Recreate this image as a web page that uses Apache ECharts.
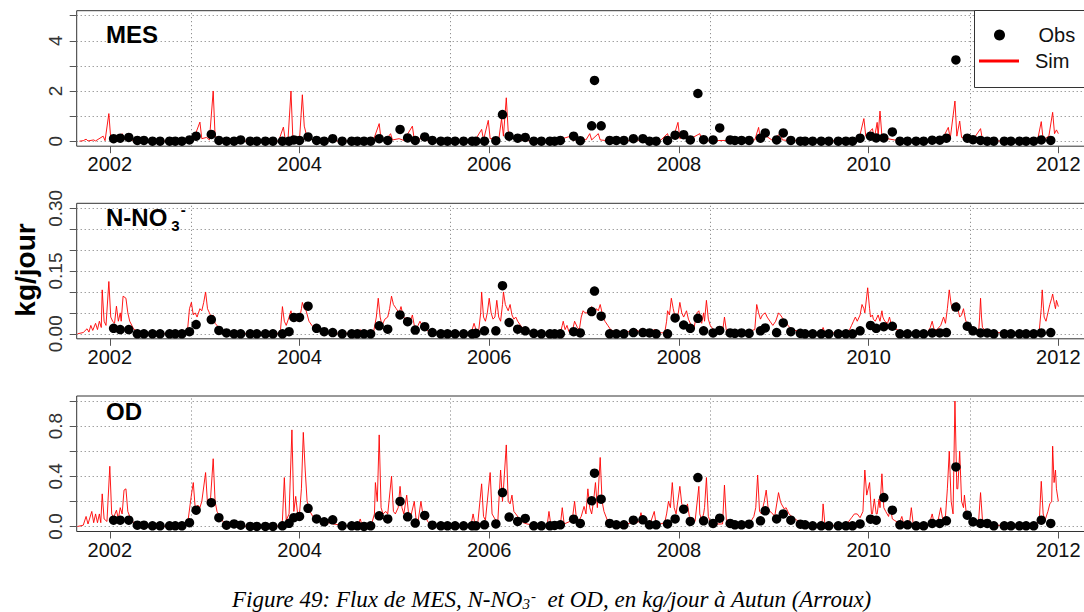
<!DOCTYPE html>
<html><head><meta charset="utf-8">
<script src="https://cdn.jsdelivr.net/npm/echarts@6/dist/echarts.min.js"></script>
<style>html,body{margin:0;padding:0;background:#fff}#c{width:1084px;height:612px}</style>
</head><body><div id="c"></div>
<script>
// ---- DATA ----
const yearTicks = [2002, 2004, 2006, 2008, 2010, 2012];
const vGridDates = [2002.855, 2005.592, 2008.333, 2011.071];
const mesTicks = [0, 1, 2, 3, 4, 5];
const mesTickLabels = [0, 2, 4];
const no3Ticks = [0, 0.05, 0.10, 0.15, 0.20, 0.25, 0.30];
const no3TickLabels = [0, 0.15, 0.30];
const odTicks = [0, 0.2, 0.4, 0.6, 0.8, 1.0];
const odTickLabels = [0, 0.4, 0.8];

const obsDates = [2002.04,2002.11,2002.20,2002.29,2002.36,2002.45,2002.53,2002.63,2002.69,2002.76,
2002.84,2002.91,2003.07,2003.15,2003.23,2003.31,2003.38,2003.48,2003.55,2003.64,
2003.72,2003.82,2003.89,2003.94,2004.00,2004.09,2004.18,2004.26,2004.35,2004.45,
2004.55,2004.61,2004.68,2004.75,2004.84,2004.93,2005.06,2005.14,2005.22,2005.32,
2005.40,2005.49,2005.56,2005.64,2005.73,2005.82,2005.86,2005.95,2006.07,2006.14,
2006.21,2006.30,2006.38,2006.47,2006.55,2006.64,2006.69,2006.75,2006.89,2006.96,
2007.08,2007.11,2007.18,2007.27,2007.34,2007.42,2007.52,2007.62,2007.69,2007.76,
2007.88,2007.96,2008.05,2008.12,2008.20,2008.26,2008.36,2008.43,2008.54,2008.59,
2008.66,2008.74,2008.86,2008.91,2009.03,2009.10,2009.18,2009.28,2009.33,2009.41,
2009.50,2009.58,2009.68,2009.76,2009.83,2009.91,2010.02,2010.08,2010.16,2010.25,
2010.33,2010.41,2010.50,2010.58,2010.67,2010.75,2010.82,2010.92,2011.04,2011.10,
2011.18,2011.25,2011.32,2011.43,2011.50,2011.59,2011.66,2011.74,2011.82,2011.92];

const mesObs = [0.10,0.12,0.15,0.03,0.03,0,0,0,0,0,
0.05,0.20,0.27,0.03,0,0,0.05,0,0,0,
0,0,0,0.05,0.03,0.17,0.03,0,0.10,0,
0,0,0,0,0.10,0.03,0.47,0.13,0.03,0.17,
0.03,0,0,0,0,0,0,0,0.02,1.06,
0.20,0.12,0.15,0,0,0,0,0.03,0.20,0.02,
0.61,2.42,0.61,0.03,0.03,0.03,0.10,0.10,0,0,
0.03,0.24,0.26,0.05,1.90,0.06,0.05,0.53,0.05,0.03,
0.03,0.03,0.12,0.33,0.05,0.33,0.03,0,0,0,
0,0,0,0,0,0.12,0.20,0.13,0.13,0.37,
0,0,0,0,0.04,0.04,0.12,3.24,0.12,0.06,
0.03,0,0,0,0,0,0,0,0.05,0.03];

const no3Obs = [0.013,0.010,0.010,0,0,0,0,0,0,0,
0.005,0.022,0.034,0.008,0.002,0,0,0,0,0,
0,0,0.005,0.039,0.039,0.066,0.013,0.005,0.003,0,
0,0,0,0,0.019,0.011,0.045,0.029,0.009,0.017,
0.003,0,0,0,0,0,0.001,0.007,0.007,0.115,
0.027,0.011,0.007,0.001,0,0,0,0,0.005,0.002,
0.053,0.102,0.042,0,0,0,0.003,0.003,0.002,0,
0,0.038,0.021,0.013,0.037,0.007,0.002,0.008,0.002,0.001,
0.002,0.001,0.007,0.014,0.003,0.026,0.005,0.001,0,0,
0,0,0,0,0,0.007,0.020,0.013,0.017,0.018,
0,0,0,0,0.002,0.002,0.003,0.064,0.018,0.007,
0.002,0.002,0,0,0,0,0,0,0.002,0.003];

const odObs = [0.05,0.05,0.05,0.01,0.01,0.005,0.005,0.005,0.005,0.005,
0.03,0.13,0.19,0.07,0.01,0.02,0.01,0,0,0,
0,0.005,0.025,0.07,0.08,0.145,0.06,0.037,0.053,0.005,
0.005,0.005,0,0.005,0.085,0.06,0.20,0.077,0.027,0.088,
0.01,0.005,0.005,0.005,0.005,0.005,0.005,0.013,0.02,0.27,
0.075,0.04,0.064,0.005,0.005,0.005,0.008,0.013,0.058,0.024,
0.205,0.425,0.218,0.024,0.013,0.013,0.05,0.053,0.013,0.013,
0.02,0.06,0.138,0.04,0.39,0.045,0.024,0.066,0.024,0.013,
0.013,0.018,0.045,0.125,0.06,0.10,0.05,0.018,0.013,0.005,
0.005,0.005,0.005,0.005,0.005,0.02,0.058,0.05,0.23,0.13,
0.013,0.013,0.005,0.005,0.024,0.024,0.045,0.475,0.09,0.037,
0.024,0.024,0.005,0.005,0.005,0.005,0.005,0.005,0.05,0.024];

const mesSim = [[2001.68,0],[2001.72,0.02],[2001.75,0.08],[2001.77,0.01],[2001.83,0.05],[2001.85,0.01],[2001.93,0.2],[2001.95,0.02],[2001.99,1.1],[2002.01,0.1],[2002.05,0.05],[2002.09,0.15],[2002.11,0.05],[2002.13,0.3],[2002.15,0.08],[2002.2,0.1],[2002.25,0.02],[2002.35,0.01],[2002.6,0],[2002.8,0.02],[2002.85,0.15],[2002.88,0.05],[2002.95,0.76],[2002.97,0.1],[2003.02,0.15],[2003.05,0.05],[2003.09,2.0],[2003.11,0.2],[2003.15,0.05],[2003.25,0.01],[2003.5,0],[2003.78,0.01],[2003.83,0.56],[2003.85,0.05],[2003.88,0.15],[2003.91,2.0],[2003.93,0.1],[2003.97,0.2],[2004.0,0.05],[2004.03,1.85],[2004.05,0.6],[2004.07,0.3],[2004.1,0.1],[2004.15,0.05],[2004.25,0.02],[2004.5,0.01],[2004.7,0.02],[2004.78,0.05],[2004.84,0.7],[2004.86,0.05],[2004.92,0.1],[2004.96,0.3],[2004.98,0.05],[2005.05,0.1],[2005.1,0.03],[2005.19,0.6],[2005.21,0.05],[2005.28,0.1],[2005.35,0.02],[2005.6,0],[2005.85,0.03],[2005.92,0.47],[2005.94,0.05],[2005.99,0.83],[2006.01,0.1],[2006.06,0.1],[2006.1,0.05],[2006.13,0.9],[2006.15,0.2],[2006.18,1.73],[2006.2,0.4],[2006.23,0.25],[2006.27,0.1],[2006.33,0.03],[2006.5,0.01],[2006.7,0.02],[2006.86,0.2],[2006.88,0.03],[2006.98,0.1],[2007.02,0.05],[2007.06,0.3],[2007.08,0.05],[2007.15,0.3],[2007.17,0.05],[2007.25,0.02],[2007.5,0.03],[2007.65,0.05],[2007.8,0.01],[2007.88,0.3],[2007.9,0.05],[2007.95,0.25],[2007.99,0.75],[2008.01,0.1],[2008.05,0.2],[2008.1,0.05],[2008.22,0.3],[2008.24,0.05],[2008.3,0.02],[2008.5,0.03],[2008.7,0.01],[2008.8,0.05],[2008.84,0.55],[2008.86,0.05],[2008.92,0.2],[2008.98,0.05],[2009.07,0.3],[2009.09,0.05],[2009.15,0.03],[2009.4,0],[2009.52,0.05],[2009.7,0],[2009.85,0.05],[2009.9,0.1],[2009.95,0.9],[2009.97,0.2],[2010.04,0.5],[2010.06,0.1],[2010.09,0.75],[2010.1,0.2],[2010.12,1.2],[2010.14,0.2],[2010.2,0.1],[2010.27,0.05],[2010.4,0.02],[2010.6,0.01],[2010.7,0.05],[2010.78,0.1],[2010.84,0.55],[2010.86,0.1],[2010.91,1.6],[2010.93,0.2],[2010.96,0.8],[2010.98,0.15],[2011.03,0.1],[2011.1,0.05],[2011.18,0.5],[2011.2,0.05],[2011.3,0.01],[2011.6,0],[2011.78,0.02],[2011.82,0.78],[2011.84,0.05],[2011.9,0.2],[2011.94,1.15],[2011.96,0.3],[2011.98,0.45],[2012.0,0.3]];

const no3Sim = [[2001.66,0],[2001.72,0.003],[2001.76,0.012],[2001.78,0.004],[2001.80,0.02],[2001.82,0.008],[2001.85,0.025],[2001.87,0.01],[2001.89,0.03],[2001.91,0.015],[2001.92,0.105],[2001.94,0.03],[2001.96,0.02],[2001.99,0.125],[2002.01,0.04],[2002.03,0.03],[2002.05,0.025],[2002.07,0.066],[2002.09,0.03],[2002.11,0.05],[2002.12,0.03],[2002.14,0.09],[2002.17,0.085],[2002.19,0.05],[2002.21,0.03],[2002.25,0.012],[2002.30,0.004],[2002.40,0.001],[2002.60,0],[2002.80,0.001],[2002.82,0.01],[2002.84,0.06],[2002.86,0.075],[2002.88,0.045],[2002.90,0.05],[2002.92,0.04],[2002.95,0.06],[2002.97,0.055],[2002.99,0.075],[2003.01,0.1],[2003.03,0.06],[2003.05,0.05],[2003.07,0.04],[2003.09,0.045],[2003.11,0.025],[2003.15,0.015],[2003.19,0.005],[2003.27,0.001],[2003.5,0],[2003.78,0.001],[2003.80,0.01],[2003.82,0.065],[2003.84,0.03],[2003.86,0.02],[2003.89,0.04],[2003.91,0.055],[2003.93,0.03],[2003.95,0.04],[2003.98,0.03],[2004.00,0.035],[2004.02,0.06],[2004.03,0.075],[2004.05,0.06],[2004.07,0.055],[2004.10,0.03],[2004.13,0.02],[2004.17,0.01],[2004.25,0.004],[2004.40,0.001],[2004.62,0.002],[2004.64,0.01],[2004.66,0.002],[2004.78,0.003],[2004.81,0.04],[2004.83,0.085],[2004.85,0.04],[2004.87,0.02],[2004.90,0.035],[2004.93,0.04],[2004.95,0.06],[2004.97,0.09],[2004.99,0.07],[2005.02,0.06],[2005.05,0.05],[2005.07,0.065],[2005.09,0.045],[2005.11,0.035],[2005.13,0.04],[2005.15,0.025],[2005.17,0.03],[2005.19,0.045],[2005.21,0.02],[2005.23,0.012],[2005.25,0.02],[2005.27,0.03],[2005.29,0.02],[2005.31,0.015],[2005.34,0.008],[2005.38,0.005],[2005.50,0.001],[2005.80,0.002],[2005.82,0.01],[2005.84,0.025],[2005.86,0.01],[2005.89,0.01],[2005.91,0.05],[2005.92,0.1],[2005.94,0.04],[2005.96,0.03],[2005.98,0.05],[2006.00,0.085],[2006.02,0.05],[2006.04,0.035],[2006.06,0.04],[2006.08,0.08],[2006.10,0.04],[2006.12,0.03],[2006.14,0.07],[2006.15,0.1],[2006.17,0.07],[2006.18,0.065],[2006.20,0.055],[2006.22,0.07],[2006.24,0.045],[2006.26,0.035],[2006.28,0.04],[2006.30,0.03],[2006.33,0.02],[2006.36,0.012],[2006.44,0.004],[2006.60,0.001],[2006.75,0.002],[2006.77,0.02],[2006.78,0.03],[2006.80,0.01],[2006.82,0.02],[2006.84,0.005],[2006.88,0.01],[2006.90,0.03],[2006.93,0.015],[2006.95,0.01],[2006.97,0.04],[2006.99,0.055],[2007.01,0.05],[2007.04,0.05],[2007.06,0.06],[2007.08,0.065],[2007.10,0.05],[2007.11,0.045],[2007.13,0.06],[2007.15,0.055],[2007.17,0.07],[2007.19,0.05],[2007.20,0.04],[2007.22,0.03],[2007.25,0.02],[2007.28,0.01],[2007.32,0.005],[2007.45,0.004],[2007.55,0.01],[2007.58,0.005],[2007.60,0.012],[2007.63,0.004],[2007.72,0.008],[2007.75,0.01],[2007.78,0.003],[2007.85,0.002],[2007.87,0.03],[2007.88,0.055],[2007.90,0.045],[2007.92,0.085],[2007.94,0.06],[2007.96,0.04],[2007.98,0.03],[2008.01,0.075],[2008.03,0.05],[2008.05,0.04],[2008.07,0.05],[2008.08,0.055],[2008.10,0.035],[2008.13,0.02],[2008.16,0.015],[2008.19,0.05],[2008.21,0.055],[2008.23,0.03],[2008.24,0.025],[2008.26,0.05],[2008.27,0.03],[2008.29,0.08],[2008.31,0.035],[2008.33,0.02],[2008.38,0.005],[2008.46,0.004],[2008.48,0.04],[2008.50,0.008],[2008.52,0.005],[2008.70,0.003],[2008.80,0.01],[2008.82,0.07],[2008.84,0.05],[2008.86,0.035],[2008.88,0.045],[2008.91,0.05],[2008.93,0.04],[2008.96,0.03],[2008.99,0.02],[2009.02,0.03],[2009.05,0.05],[2009.07,0.045],[2009.10,0.035],[2009.12,0.03],[2009.15,0.02],[2009.18,0.012],[2009.22,0.008],[2009.35,0.003],[2009.50,0.002],[2009.52,0.015],[2009.54,0.002],[2009.75,0.002],[2009.80,0.01],[2009.82,0.02],[2009.84,0.03],[2009.86,0.04],[2009.88,0.03],[2009.91,0.045],[2009.93,0.07],[2009.95,0.06],[2009.96,0.05],[2009.98,0.09],[2009.99,0.11],[2010.01,0.06],[2010.02,0.04],[2010.04,0.045],[2010.05,0.035],[2010.07,0.03],[2010.10,0.045],[2010.12,0.03],[2010.14,0.055],[2010.15,0.04],[2010.17,0.03],[2010.20,0.025],[2010.22,0.04],[2010.24,0.02],[2010.28,0.012],[2010.35,0.005],[2010.50,0.002],[2010.62,0.003],[2010.65,0.015],[2010.67,0.03],[2010.69,0.01],[2010.72,0.01],[2010.76,0.02],[2010.79,0.04],[2010.81,0.025],[2010.83,0.06],[2010.85,0.105],[2010.87,0.07],[2010.89,0.055],[2010.91,0.06],[2010.93,0.075],[2010.95,0.05],[2010.96,0.04],[2010.98,0.045],[2011.00,0.06],[2011.02,0.035],[2011.04,0.02],[2011.07,0.012],[2011.11,0.007],[2011.16,0.005],[2011.17,0.04],[2011.18,0.085],[2011.19,0.04],[2011.20,0.015],[2011.24,0.006],[2011.30,0.003],[2011.50,0.002],[2011.62,0.005],[2011.70,0.003],[2011.78,0.005],[2011.80,0.01],[2011.82,0.06],[2011.83,0.105],[2011.85,0.04],[2011.87,0.03],[2011.89,0.05],[2011.91,0.07],[2011.93,0.085],[2011.94,0.095],[2011.96,0.07],[2011.97,0.06],[2011.98,0.08],[2012.0,0.065]];

const odSim = [[2001.66,0],[2001.72,0.01],[2001.75,0.08],[2001.77,0.02],[2001.81,0.12],[2001.83,0.03],[2001.85,0.1],[2001.87,0.03],[2001.89,0.1],[2001.905,0.03],[2001.92,0.26],[2001.94,0.06],[2001.97,0.04],[2002.0,0.48],[2002.02,0.1],[2002.04,0.07],[2002.07,0.13],[2002.09,0.06],[2002.11,0.15],[2002.13,0.1],[2002.15,0.29],[2002.17,0.3],[2002.19,0.12],[2002.21,0.08],[2002.25,0.03],[2002.33,0.005],[2002.6,0],[2002.80,0.005],[2002.82,0.02],[2002.86,0.25],[2002.88,0.35],[2002.90,0.15],[2002.93,0.17],[2002.95,0.15],[2002.97,0.2],[2003.01,0.43],[2003.03,0.18],[2003.06,0.2],[2003.09,0.54],[2003.11,0.2],[2003.13,0.12],[2003.16,0.08],[2003.21,0.02],[2003.31,0.005],[2003.6,0],[2003.80,0.005],[2003.82,0.05],[2003.84,0.39],[2003.86,0.05],[2003.89,0.1],[2003.92,0.77],[2003.94,0.12],[2003.96,0.24],[2003.98,0.1],[2004.0,0.1],[2004.02,0.3],[2004.04,0.75],[2004.06,0.45],[2004.08,0.2],[2004.11,0.12],[2004.14,0.08],[2004.17,0.06],[2004.25,0.04],[2004.36,0.02],[2004.48,0.005],[2004.62,0.01],[2004.64,0.06],[2004.66,0.01],[2004.76,0.02],[2004.79,0.1],[2004.80,0.35],[2004.82,0.2],[2004.84,0.73],[2004.86,0.15],[2004.88,0.1],[2004.91,0.12],[2004.93,0.1],[2004.97,0.4],[2004.99,0.12],[2005.01,0.1],[2005.04,0.15],[2005.06,0.32],[2005.08,0.15],[2005.10,0.1],[2005.13,0.25],[2005.15,0.1],[2005.17,0.07],[2005.21,0.2],[2005.23,0.05],[2005.25,0.04],[2005.28,0.2],[2005.30,0.1],[2005.32,0.1],[2005.35,0.04],[2005.38,0.02],[2005.50,0.003],[2005.75,0],[2005.81,0.02],[2005.83,0.1],[2005.85,0.02],[2005.88,0.03],[2005.92,0.34],[2005.94,0.08],[2005.96,0.05],[2006.01,0.43],[2006.03,0.1],[2006.06,0.06],[2006.09,0.03],[2006.12,0.45],[2006.14,0.2],[2006.15,0.3],[2006.18,0.65],[2006.20,0.2],[2006.22,0.18],[2006.24,0.25],[2006.26,0.12],[2006.28,0.1],[2006.32,0.06],[2006.36,0.03],[2006.40,0.02],[2006.52,0.003],[2006.61,0.005],[2006.63,0.12],[2006.65,0.01],[2006.75,0.01],[2006.77,0.15],[2006.79,0.02],[2006.85,0.04],[2006.88,0.08],[2006.90,0.2],[2006.92,0.06],[2006.94,0.04],[2006.97,0.08],[2007.0,0.16],[2007.02,0.1],[2007.04,0.3],[2007.06,0.15],[2007.08,0.1],[2007.10,0.2],[2007.12,0.35],[2007.14,0.15],[2007.17,0.55],[2007.19,0.2],[2007.21,0.12],[2007.25,0.04],[2007.32,0.02],[2007.45,0.02],[2007.50,0.03],[2007.55,0.03],[2007.58,0.04],[2007.60,0.11],[2007.62,0.03],[2007.70,0.03],[2007.74,0.12],[2007.76,0.01],[2007.85,0.03],[2007.87,0.1],[2007.89,0.2],[2007.91,0.15],[2007.93,0.35],[2007.95,0.15],[2007.97,0.1],[2008.01,0.32],[2008.03,0.18],[2008.05,0.15],[2008.07,0.12],[2008.09,0.18],[2008.11,0.08],[2008.13,0.05],[2008.17,0.04],[2008.21,0.32],[2008.22,0.1],[2008.24,0.05],[2008.26,0.1],[2008.27,0.15],[2008.29,0.39],[2008.31,0.08],[2008.33,0.04],[2008.38,0.02],[2008.46,0.02],[2008.48,0.33],[2008.50,0.05],[2008.55,0.03],[2008.60,0.02],[2008.75,0.03],[2008.79,0.08],[2008.81,0.15],[2008.83,0.41],[2008.85,0.12],[2008.87,0.1],[2008.90,0.2],[2008.92,0.29],[2008.94,0.15],[2008.96,0.12],[2008.99,0.1],[2009.01,0.08],[2009.05,0.27],[2009.07,0.2],[2009.08,0.18],[2009.11,0.14],[2009.13,0.15],[2009.16,0.1],[2009.19,0.08],[2009.26,0.04],[2009.36,0.02],[2009.48,0.01],[2009.51,0.04],[2009.52,0.18],[2009.54,0.01],[2009.72,0.005],[2009.78,0.03],[2009.82,0.07],[2009.85,0.1],[2009.88,0.1],[2009.91,0.07],[2009.94,0.12],[2009.96,0.45],[2009.98,0.25],[2010.01,0.35],[2010.03,0.1],[2010.04,0.1],[2010.06,0.22],[2010.08,0.1],[2010.09,0.1],[2010.11,0.22],[2010.12,0.15],[2010.14,0.42],[2010.16,0.15],[2010.18,0.12],[2010.21,0.08],[2010.23,0.15],[2010.25,0.06],[2010.27,0.05],[2010.31,0.03],[2010.33,0.04],[2010.35,0.08],[2010.37,0.02],[2010.43,0.02],[2010.45,0.15],[2010.47,0.02],[2010.57,0.01],[2010.64,0.02],[2010.67,0.1],[2010.69,0.03],[2010.73,0.04],[2010.76,0.15],[2010.78,0.06],[2010.81,0.08],[2010.83,0.3],[2010.85,0.6],[2010.87,0.2],[2010.89,0.1],[2010.91,1.0],[2010.93,0.3],[2010.94,0.3],[2010.96,0.6],[2010.98,0.2],[2011.0,0.15],[2011.01,0.25],[2011.03,0.1],[2011.05,0.08],[2011.08,0.05],[2011.12,0.04],[2011.16,0.05],[2011.18,0.27],[2011.20,0.05],[2011.27,0.02],[2011.34,0.01],[2011.55,0.005],[2011.76,0.01],[2011.80,0.05],[2011.82,0.36],[2011.84,0.1],[2011.86,0.05],[2011.89,0.12],[2011.91,0.18],[2011.93,0.2],[2011.94,0.64],[2011.955,0.35],[2011.97,0.45],[2011.98,0.3],[2012.0,0.2]];

// ---- LAYOUT / OPTION ----
const chart = echarts.init(document.getElementById('c'), null, {renderer: 'svg', width: 1084, height: 612});
const FONT = '"Liberation Sans", Arial, sans-serif';
const SERIF = '"Liberation Serif", "Times New Roman", serif';
const xMin = 2001.651, xMax = 2012.299;
const panels = [
  {obs: mesObs, sim: mesSim, yMin: -0.2, yMax: 5.2, ticks: mesTicks, labels: mesTickLabels, dec: 0, top: 10.7},
  {obs: no3Obs, sim: no3Sim, yMin: -0.012, yMax: 0.312, ticks: no3Ticks, labels: no3TickLabels, dec: 2, top: 203.3},
  {obs: odObs, sim: odSim, yMin: -0.04, yMax: 1.04, ticks: odTicks, labels: odTickLabels, dec: 1, top: 396}
];
const grids = [], xAxes = [], yAxes = [], series = [];
panels.forEach((p, i) => {
  grids.push({left: 76.7, width: 1010, top: p.top, height: 135.5, show: true, borderColor: '#333', borderWidth: 1,
    backgroundColor: 'rgba(0,0,0,0)', containLabel: false, outerBoundsMode: 'none'});
  xAxes.push({type: 'value', gridIndex: i, min: xMin, max: xMax,
    axisLine: {show: false, onZero: false},
    axisTick: {show: true, length: 7, customValues: yearTicks, lineStyle: {color: '#555', width: 1}},
    axisLabel: {show: true, customValues: yearTicks, formatter: v => String(Math.round(v)), fontSize: 20, fontFamily: FONT, color: '#111', margin: 8},
    splitLine: {show: false}});
  yAxes.push({type: 'value', gridIndex: i, min: p.yMin, max: p.yMax,
    axisLine: {show: false, onZero: false},
    axisTick: {show: true, length: 7, customValues: p.ticks, lineStyle: {color: '#555', width: 1}},
    axisLabel: {show: true, customValues: p.labels, rotate: 90, formatter: v => Number(v).toFixed(p.dec), fontSize: 19, fontFamily: FONT, color: '#333', margin: 12},
    splitLine: {show: false}});
  series.push({type: 'line', name: 'Sim', xAxisIndex: i, yAxisIndex: i, data: p.sim, symbol: 'none', showSymbol: false,
    lineStyle: {color: '#ff0000', width: 1, opacity: 0.9}, itemStyle: {color: '#ff0000'}, z: 2, silent: true,
    markLine: {silent: true, symbol: ['none', 'none'], label: {show: false}, z: 1, animation: false,
      lineStyle: {color: '#777', width: 1, type: [1, 3]},
      emphasis: {disabled: true},
      data: p.ticks.map(v => ({yAxis: v})).concat(vGridDates.map(v => ({xAxis: v})))}});
  series.push({type: 'scatter', name: 'Obs', xAxisIndex: i, yAxisIndex: i,
    data: obsDates.map((d, k) => [d, p.obs[k]]), symbol: 'circle', symbolSize: 9.5,
    itemStyle: {color: '#000', opacity: 1}, z: 3, silent: true});
});

const option = {
  animation: false,
  backgroundColor: '#fff',
  grid: grids, xAxis: xAxes, yAxis: yAxes, series: series,
  legend: [
    {data: [{name: 'Obs', icon: 'circle'}], left: 994, top: 25, itemWidth: 40, itemHeight: 11,
      padding: 0, selectedMode: false, z: 10, itemStyle: {color: '#000', opacity: 1},
      textStyle: {fontSize: 20, fontFamily: FONT, color: '#111', padding: [0, 0, 0, 14]}},
    {data: [{name: 'Sim', icon: 'rect'}], left: 979, top: 51, itemWidth: 40, itemHeight: 3,
      padding: 0, selectedMode: false, z: 10, itemStyle: {color: '#ff0000'},
      textStyle: {fontSize: 20, fontFamily: FONT, color: '#111', padding: [0, 0, 0, 11]}}
  ],
  title: [
    {text: 'MES', left: 106, top: 22.7, padding: 0, textStyle: {fontSize: 24, fontWeight: 'bold', fontFamily: FONT, color: '#000'}},
    {text: '{a|N-NO}{b|3}{c|-}', left: 106, top: 202, padding: 0, textStyle: {
      rich: {
        a: {fontSize: 24, fontWeight: 'bold', fontFamily: FONT, color: '#000'},
        b: {fontSize: 15, fontWeight: 'bold', fontFamily: FONT, color: '#000', padding: [16, 0, 0, 4]},
        c: {fontSize: 15, fontWeight: 'bold', fontFamily: FONT, color: '#000', padding: [0, 0, 16, 1]}
      }}},
    {text: 'OD', left: 106, top: 399, padding: 0, textStyle: {fontSize: 24, fontWeight: 'bold', fontFamily: FONT, color: '#000'}},
    {text: '{i|Figure 49: Flux de MES, N-NO}{s|3}{p|-}{i|  et OD, en kg/jour à Autun (Arroux)}', left: 232, top: 588, padding: 0,
      textStyle: {fontWeight: 'normal', rich: {
        i: {fontSize: 23, fontStyle: 'italic', fontWeight: 'normal', fontFamily: SERIF, color: '#000'},
        s: {fontSize: 15, fontStyle: 'italic', fontWeight: 'normal', fontFamily: SERIF, color: '#000', padding: [8, 0, 0, 0]},
        p: {fontSize: 15, fontStyle: 'italic', fontWeight: 'normal', fontFamily: SERIF, color: '#000', padding: [0, 0, 8, 1]}
      }}}
  ],
  graphic: [
    {type: 'rect', z: 5, silent: true, shape: {x: 974.5, y: 10.5, width: 115, height: 77}, style: {fill: '#fff', stroke: '#333', lineWidth: 1}},
    {type: 'text', z: 5, silent: true, x: 25, y: 270, rotation: Math.PI / 2,
      style: {text: 'kg/jour', fontSize: 28, fontWeight: 'bold', fontFamily: FONT, fill: '#000', align: 'center', verticalAlign: 'middle'}}
  ]
};
chart.setOption(option);
</script>
</body></html>
